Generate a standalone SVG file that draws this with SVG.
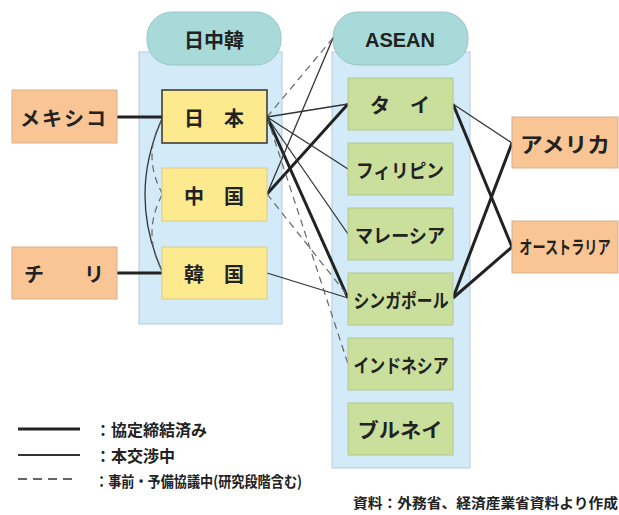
<svg xmlns="http://www.w3.org/2000/svg" width="619" height="515" viewBox="0 0 619 515">
<style>
.panel{fill:#d3ebf8;stroke:#b9cad6;stroke-width:1}
.hdr{fill:#a7dad8;stroke:#9ac6c6;stroke-width:1}
.org{fill:#f9c594;stroke:#d6b08e;stroke-width:1}
.yel{fill:#fde98e;stroke:#d9cc8a;stroke-width:1}
.grn{fill:#c9df9b;stroke:#b2c98d;stroke-width:1}
.t{font-family:"Noto Sans CJK JP","Liberation Sans",sans-serif;font-weight:bold;fill:#222;text-anchor:middle;dominant-baseline:central}
.thick{stroke:#222;stroke-width:3;fill:none}
.thin{stroke:#333;stroke-width:1.3;fill:none}
.dash{stroke:#666;stroke-width:1.2;fill:none;stroke-dasharray:7 5}
</style>
<rect width="619" height="515" fill="#fff"/>
<g id="panel-left">
<rect class="panel" x="139" y="52" width="143" height="272"/>
<rect class="hdr" x="147" y="12" width="134" height="53" rx="25"/>
<text class="t" x="214" y="39" font-size="20">日中韓</text>
</g>
<g id="panel-right">
<rect class="panel" x="332" y="52" width="138" height="416"/>
<rect class="hdr" x="333" y="12" width="135" height="53" rx="25"/>
<text class="t" x="400" y="40" font-size="20" style="font-family:'Liberation Sans',sans-serif">ASEAN</text>
</g>
<g id="connectors">
<line class="thick" x1="117" y1="117" x2="162" y2="117"/>
<line class="thick" x1="117" y1="273" x2="162" y2="273"/>
<line class="thick" x1="267" y1="117" x2="348" y2="298"/>
<line class="thick" x1="267" y1="194" x2="348" y2="104"/>
<line class="thick" x1="453" y1="104" x2="512" y2="247"/>
<line class="thick" x1="453" y1="298" x2="512" y2="143"/>
<line class="thick" x1="453" y1="298" x2="512" y2="247"/>
<line class="thin" x1="267" y1="117" x2="348" y2="104"/>
<line class="thin" x1="267" y1="117" x2="348" y2="169"/>
<line class="thin" x1="267" y1="117" x2="348" y2="234"/>
<line class="thin" x1="267" y1="273" x2="348" y2="298"/>
<line class="thin" x1="267" y1="194" x2="333" y2="38"/>
<line class="thin" x1="453" y1="104" x2="512" y2="143"/>
<path class="thin" d="M162,119 Q128,195 162,271"/>
<line class="dash" x1="267" y1="117" x2="333" y2="38"/>
<line class="dash" x1="267" y1="117" x2="348" y2="364"/>
<line class="dash" x1="267" y1="194" x2="348" y2="296"/>
<path class="dash" d="M162,119 Q142,156 162,193"/>
<path class="dash" d="M162,195 Q142,233 162,271"/>
</g>
<g id="mexico"><rect class="org" x="12" y="90" width="105" height="53"/><text class="t" x="64" y="117" font-size="20" letter-spacing="2">メキシコ</text></g>
<g id="chile"><rect class="org" x="12" y="247" width="105" height="52"/><text class="t" x="64" y="273" font-size="20" xml:space="preserve">チ　　リ</text></g>
<g id="japan"><rect class="yel" x="162" y="90" width="105" height="53" style="stroke:#333;stroke-width:1.5"/><text class="t" x="214" y="117" font-size="20" xml:space="preserve">日　本</text></g>
<g id="china"><rect class="yel" x="162" y="168" width="105" height="53"/><text class="t" x="214" y="195" font-size="20" xml:space="preserve">中　国</text></g>
<g id="korea"><rect class="yel" x="162" y="247" width="105" height="52"/><text class="t" x="214" y="273" font-size="20" xml:space="preserve">韓　国</text></g>
<g id="thai"><rect class="grn" x="348" y="78" width="105" height="52"/><text class="t" x="400" y="104" font-size="20" xml:space="preserve">タ　イ</text></g>
<g id="philippines"><rect class="grn" x="348" y="143" width="105" height="52"/><text class="t" x="400" y="169" font-size="19" textLength="88" lengthAdjust="spacingAndGlyphs">フィリピン</text></g>
<g id="malaysia"><rect class="grn" x="348" y="208" width="105" height="52"/><text class="t" x="400" y="234" font-size="19" textLength="90" lengthAdjust="spacingAndGlyphs">マレーシア</text></g>
<g id="singapore"><rect class="grn" x="348" y="273" width="105" height="52"/><text class="t" x="401" y="299" font-size="19" textLength="95" lengthAdjust="spacingAndGlyphs">シンガポール</text></g>
<g id="indonesia"><rect class="grn" x="348" y="338" width="105" height="52"/><text class="t" x="401" y="364" font-size="19" textLength="95" lengthAdjust="spacingAndGlyphs">インドネシア</text></g>
<g id="brunei"><rect class="grn" x="348" y="403" width="105" height="52"/><text class="t" x="400" y="429" font-size="20" textLength="85" lengthAdjust="spacingAndGlyphs">ブルネイ</text></g>
<g id="america"><rect class="org" x="512" y="117" width="106" height="51"/><text class="t" x="565" y="143" font-size="21" textLength="90" lengthAdjust="spacingAndGlyphs">アメリカ</text></g>
<g id="australia"><rect class="org" x="512" y="221" width="106" height="52"/><text class="t" font-size="18" transform="translate(565 247) scale(0.73 1)">オーストラリア</text></g>
<g id="legend">
<line class="thick" x1="18" y1="429" x2="80" y2="429"/>
<line class="thin" x1="18" y1="455" x2="80" y2="455" style="stroke-width:1.8"/>
<line class="dash" x1="18" y1="479" x2="78" y2="479" style="stroke:#333;stroke-width:1.4;stroke-dasharray:9 6"/>
<text class="t" x="95" y="429" font-size="16" style="text-anchor:start">：協定締結済み</text>
<text class="t" x="95" y="455" font-size="16" style="text-anchor:start">：本交渉中</text>
<text class="t" x="95" y="480" font-size="15" style="text-anchor:start" textLength="207" lengthAdjust="spacingAndGlyphs">：事前・予備協議中(研究段階含む)</text>
</g>
<text class="t" x="618" y="502" font-size="14" style="text-anchor:end" textLength="265" lengthAdjust="spacingAndGlyphs">資料：外務省、経済産業省資料より作成</text>
</svg>
